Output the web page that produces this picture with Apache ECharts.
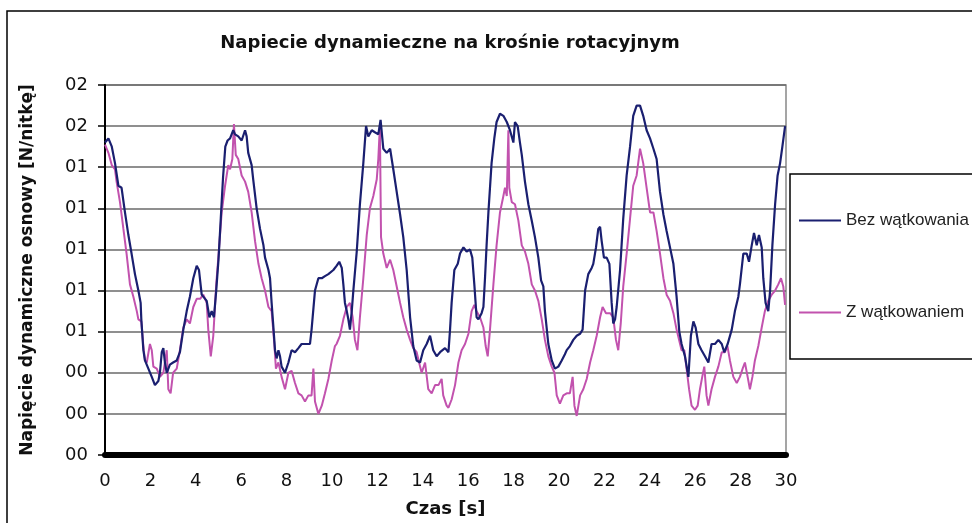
<!DOCTYPE html>
<html><head><meta charset="utf-8">
<script src="https://cdn.jsdelivr.net/npm/echarts@6/dist/echarts.min.js"></script>
<style>html,body{margin:0;padding:0;background:#fff}#c{width:972px;height:523px}</style>
</head><body><div id="c"></div>
<script>
var titleText = 'Napiecie dynamieczne na krośnie rotacyjnym';
var xName = 'Czas [s]';
var yName = 'Napięcie dynamiczne osnowy [N/nitkę]';
var seriesNames = ['Bez wątkowania', 'Z wątkowaniem'];
var yLabels = ['00','00','00','01','01','01','01','01','02','02'];
var xTicks = [0,2,4,6,8,10,12,14,16,18,20,22,24,26,28,30];

var tBez = [0.00,0.15,0.30,0.44,0.59,0.73,0.88,1.03,1.17,1.32,1.47,1.57,1.60,1.69,1.76,1.91,2.06,2.20,2.35,2.42,2.50,2.57,2.64,2.72,2.86,3.00,3.16,3.30,3.45,3.60,3.74,3.89,4.04,4.14,4.26,4.48,4.60,4.70,4.80,4.90,5.00,5.10,5.20,5.30,5.40,5.51,5.65,5.73,5.87,6.02,6.17,6.24,6.31,6.46,6.53,6.68,6.83,6.98,7.05,7.20,7.27,7.34,7.42,7.49,7.56,7.64,7.71,7.78,7.93,8.08,8.22,8.37,8.52,8.66,8.81,9.03,9.10,9.25,9.40,9.55,9.69,9.84,10.06,10.20,10.32,10.43,10.50,10.57,10.65,10.72,10.79,10.87,10.94,11.09,11.23,11.38,11.50,11.60,11.75,11.89,12.04,12.14,12.26,12.41,12.56,12.70,12.85,13.00,13.14,13.29,13.44,13.58,13.73,13.88,14.02,14.17,14.32,14.46,14.61,14.76,14.98,15.13,15.20,15.27,15.39,15.54,15.64,15.79,15.93,16.08,16.18,16.27,16.37,16.45,16.59,16.67,16.74,16.81,16.89,16.96,17.03,17.15,17.25,17.40,17.55,17.70,17.84,17.99,18.06,18.18,18.28,18.36,18.50,18.65,18.80,18.94,19.09,19.21,19.31,19.38,19.53,19.68,19.82,19.97,20.12,20.26,20.34,20.48,20.63,20.78,20.93,21.04,21.15,21.29,21.44,21.51,21.63,21.73,21.81,21.88,21.98,22.10,22.22,22.32,22.39,22.47,22.54,22.69,22.83,22.98,23.13,23.27,23.42,23.57,23.71,23.86,24.01,24.16,24.30,24.45,24.60,24.74,24.89,25.04,25.18,25.30,25.40,25.55,25.70,25.81,25.92,26.02,26.14,26.28,26.43,26.58,26.72,26.87,27.02,27.17,27.28,27.43,27.61,27.75,27.90,27.97,28.12,28.27,28.37,28.49,28.59,28.71,28.81,28.93,29.00,29.10,29.22,29.30,29.40,29.52,29.63,29.74,29.84,29.96];
var vBez = [0.152,0.154,0.150,0.142,0.131,0.130,0.118,0.107,0.098,0.088,0.080,0.074,0.066,0.051,0.046,0.042,0.038,0.034,0.036,0.040,0.050,0.052,0.045,0.040,0.044,0.045,0.046,0.050,0.061,0.070,0.077,0.086,0.092,0.090,0.078,0.075,0.067,0.070,0.067,0.080,0.095,0.115,0.135,0.150,0.153,0.154,0.158,0.156,0.155,0.153,0.158,0.155,0.147,0.141,0.134,0.120,0.110,0.102,0.096,0.090,0.086,0.074,0.062,0.051,0.047,0.051,0.048,0.043,0.040,0.045,0.051,0.050,0.052,0.054,0.054,0.054,0.061,0.080,0.086,0.086,0.087,0.088,0.090,0.092,0.094,0.091,0.083,0.074,0.070,0.066,0.061,0.070,0.080,0.099,0.122,0.142,0.160,0.155,0.158,0.157,0.156,0.163,0.149,0.147,0.149,0.139,0.128,0.117,0.106,0.090,0.067,0.053,0.046,0.045,0.051,0.054,0.058,0.051,0.048,0.050,0.052,0.050,0.061,0.074,0.090,0.093,0.098,0.101,0.099,0.100,0.096,0.083,0.067,0.066,0.069,0.072,0.086,0.102,0.118,0.130,0.142,0.154,0.162,0.166,0.165,0.162,0.158,0.152,0.162,0.160,0.152,0.146,0.133,0.122,0.114,0.106,0.096,0.085,0.082,0.070,0.054,0.046,0.042,0.043,0.046,0.049,0.051,0.053,0.056,0.058,0.059,0.061,0.080,0.088,0.091,0.093,0.101,0.110,0.111,0.104,0.096,0.096,0.093,0.074,0.064,0.066,0.072,0.090,0.115,0.136,0.150,0.165,0.170,0.170,0.165,0.158,0.154,0.149,0.144,0.128,0.117,0.109,0.101,0.093,0.077,0.060,0.054,0.048,0.038,0.058,0.065,0.062,0.054,0.051,0.048,0.045,0.054,0.054,0.056,0.054,0.050,0.054,0.061,0.070,0.077,0.083,0.098,0.098,0.094,0.102,0.108,0.102,0.107,0.101,0.086,0.074,0.070,0.080,0.102,0.122,0.136,0.142,0.150,0.160];

var tZ = [0.00,0.15,0.30,0.44,0.51,0.66,0.81,0.95,1.10,1.25,1.40,1.47,1.60,1.69,1.76,1.84,1.98,2.06,2.13,2.28,2.42,2.57,2.72,2.79,2.89,3.00,3.16,3.30,3.45,3.60,3.74,3.89,4.04,4.19,4.33,4.48,4.55,4.66,4.77,4.90,5.00,5.14,5.29,5.43,5.51,5.61,5.68,5.76,5.87,6.02,6.17,6.31,6.46,6.61,6.76,6.90,7.05,7.20,7.34,7.46,7.53,7.64,7.78,7.93,8.08,8.22,8.37,8.52,8.66,8.81,8.96,9.10,9.18,9.25,9.40,9.55,9.69,9.84,9.99,10.13,10.20,10.35,10.50,10.65,10.79,10.91,11.01,11.12,11.23,11.38,11.53,11.67,11.82,11.97,12.04,12.11,12.16,12.26,12.41,12.56,12.70,12.85,13.00,13.14,13.29,13.44,13.58,13.73,13.88,13.95,14.10,14.24,14.39,14.54,14.69,14.83,14.90,15.05,15.13,15.27,15.42,15.57,15.71,15.86,16.01,16.15,16.27,16.37,16.52,16.67,16.77,16.86,16.96,17.11,17.25,17.40,17.55,17.62,17.70,17.77,17.81,17.92,18.06,18.21,18.36,18.50,18.65,18.80,18.94,19.09,19.24,19.38,19.53,19.68,19.80,19.90,20.04,20.19,20.34,20.48,20.60,20.68,20.78,20.93,21.07,21.22,21.37,21.51,21.66,21.81,21.92,22.07,22.25,22.39,22.51,22.61,22.72,22.83,22.98,23.13,23.27,23.42,23.57,23.71,23.86,24.01,24.16,24.30,24.45,24.60,24.74,24.89,25.04,25.18,25.40,25.52,25.62,25.73,25.84,25.99,26.11,26.21,26.31,26.40,26.50,26.58,26.72,26.87,27.02,27.17,27.31,27.42,27.53,27.68,27.83,27.97,28.09,28.19,28.31,28.41,28.52,28.63,28.78,28.93,29.07,29.22,29.37,29.52,29.66,29.78,29.88,29.96];
var vZ = [0.151,0.147,0.141,0.139,0.133,0.123,0.110,0.098,0.083,0.077,0.070,0.066,0.065,0.053,0.046,0.045,0.054,0.051,0.043,0.042,0.038,0.040,0.051,0.032,0.030,0.040,0.042,0.051,0.062,0.066,0.064,0.072,0.076,0.076,0.078,0.074,0.061,0.048,0.058,0.083,0.097,0.118,0.131,0.141,0.139,0.144,0.161,0.146,0.144,0.136,0.133,0.128,0.118,0.104,0.093,0.086,0.080,0.072,0.070,0.054,0.042,0.045,0.038,0.032,0.040,0.041,0.035,0.030,0.029,0.026,0.029,0.029,0.042,0.026,0.020,0.024,0.030,0.037,0.046,0.053,0.054,0.058,0.066,0.072,0.074,0.067,0.056,0.051,0.067,0.086,0.107,0.120,0.126,0.134,0.144,0.160,0.106,0.098,0.091,0.095,0.090,0.082,0.074,0.067,0.061,0.056,0.052,0.050,0.043,0.040,0.045,0.032,0.030,0.034,0.034,0.037,0.029,0.024,0.023,0.027,0.034,0.045,0.051,0.054,0.059,0.070,0.073,0.070,0.067,0.062,0.053,0.048,0.061,0.083,0.102,0.118,0.126,0.130,0.126,0.158,0.130,0.123,0.122,0.114,0.102,0.099,0.093,0.083,0.080,0.075,0.066,0.056,0.048,0.043,0.040,0.029,0.025,0.029,0.030,0.030,0.038,0.024,0.019,0.029,0.032,0.037,0.045,0.051,0.058,0.067,0.072,0.069,0.069,0.067,0.056,0.051,0.064,0.082,0.098,0.115,0.131,0.136,0.149,0.142,0.130,0.118,0.118,0.109,0.098,0.086,0.078,0.075,0.069,0.061,0.051,0.051,0.042,0.032,0.024,0.022,0.024,0.032,0.038,0.043,0.029,0.024,0.032,0.038,0.043,0.050,0.050,0.053,0.046,0.038,0.035,0.038,0.042,0.045,0.038,0.032,0.038,0.046,0.053,0.062,0.070,0.075,0.078,0.080,0.083,0.086,0.082,0.073];

function zip(t, v) { return t.map(function (x, i) { return [x, v[i]]; }); }

var chart = echarts.init(document.getElementById('c'), null, { renderer: 'canvas' });
chart.setOption({
  animation: false,
  backgroundColor: '#fff',
  textStyle: { fontFamily: 'DejaVu Sans' },
  title: {
    text: titleText, left: 445, top: 29, textAlign: 'center',
    textStyle: { fontFamily: 'DejaVu Sans', fontWeight: 'bold', fontSize: 18, color: '#111' }
  },
  graphic: [{
    type: 'rect', shape: { x: 7, y: 11, width: 1000, height: 600 },
    style: { fill: 'none', stroke: '#000', lineWidth: 1.5 }, silent: true, z: -1
  }],
  legend: {
    orient: 'vertical', left: 790, top: 174,
    padding: [38, 30, 38, 9], itemGap: 75, itemWidth: 42, itemHeight: 2,
    icon: 'rect',
    borderColor: '#000', borderWidth: 1.5, backgroundColor: '#fff',
    textStyle: { fontFamily: 'Liberation Sans', fontSize: 17, color: '#222' },
    data: seriesNames
  },
  grid: {
    left: 105, top: 85, width: 681, height: 375, show: true,
    borderColor: '#888', borderWidth: 1.5, backgroundColor: 'transparent'
  },
  xAxis: {
    type: 'value', min: 0, max: 30, interval: 2,
    name: xName, nameLocation: 'middle', nameGap: 42,
    nameTextStyle: { fontFamily: 'DejaVu Sans', fontWeight: 'bold', fontSize: 18, color: '#111' },
    offset: 3,
    axisLine: { show: true, lineStyle: { color: '#000', width: 6 } },
    axisTick: { show: false },
    splitLine: { show: false },
    axisLabel: {
      margin: 14, fontSize: 18, color: '#111', fontFamily: 'DejaVu Sans',
      formatter: function (v) { var i = xTicks.indexOf(Math.round(v)); return i >= 0 ? String(xTicks[i]) : ''; }
    }
  },
  yAxis: {
    type: 'value', min: 0, max: 0.18, interval: 0.02,
    name: yName, nameLocation: 'middle', nameGap: 69,
    nameTextStyle: { fontFamily: 'DejaVu Sans', fontWeight: 'bold', fontSize: 17, color: '#111' },
    axisLine: { show: true, lineStyle: { color: '#000', width: 2 } },
    axisTick: { show: true, length: 7, lineStyle: { color: '#000', width: 1.5 } },
    splitLine: { show: true, lineStyle: { color: '#6a6a6a', width: 1.5 } },
    axisLabel: {
      margin: 17, fontSize: 18, color: '#111', fontFamily: 'DejaVu Sans',
      formatter: function (v) { var i = Math.round(v / 0.02); return yLabels[i] || ''; }
    }
  },
  series: [
    { name: seriesNames[0], type: 'line', data: zip(tBez, vBez), symbol: 'none', smooth: false,
      lineStyle: { color: '#1a1f70', width: 2.2 }, itemStyle: { color: '#1a1f70' }, z: 3 },
    { name: seriesNames[1], type: 'line', data: zip(tZ, vZ), symbol: 'none', smooth: false,
      lineStyle: { color: '#c252ae', width: 2 }, itemStyle: { color: '#c252ae' }, z: 2 }
  ]
});
</script></body></html>
